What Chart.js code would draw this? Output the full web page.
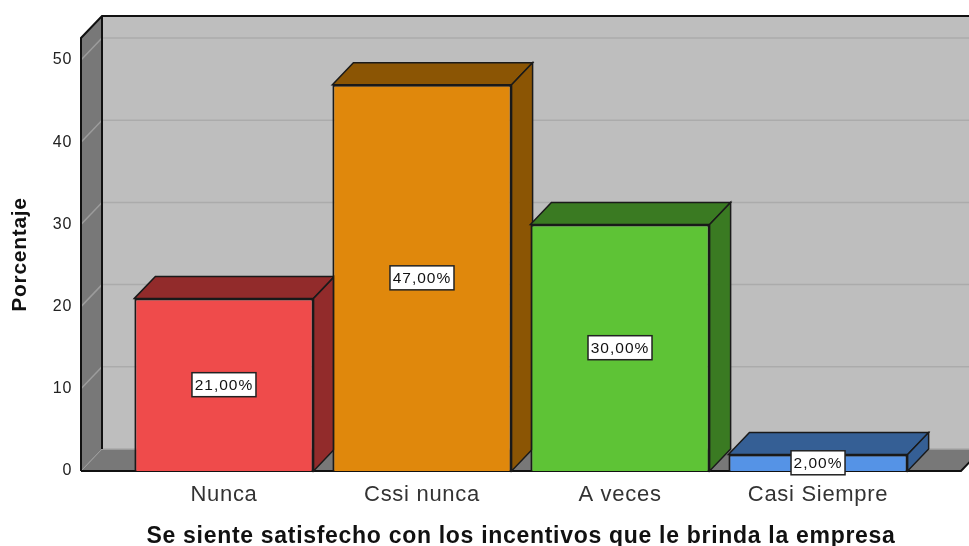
<!DOCTYPE html>
<html><head><meta charset="utf-8">
<style>html,body{margin:0;padding:0;background:#fff;overflow:hidden}#w{width:969px;height:546px;position:relative}</style>
<script src="https://cdn.jsdelivr.net/npm/chart.js@4"></script></head>
<body><div id="w"><canvas id="c"></canvas></div>
<script>
const categories=['Nunca','Cssi nunca','A veces','Casi Siempre'];
const values=[21,47,30,2];
const valueLabels=['21,00%','47,00%','30,00%','2,00%'];
const yTicks=[0,10,20,30,40,50];
const frontColors=['#EF4B4B','#E0880C','#5EC336','#5593E6'];
const topColors=['#922B2B','#8B5504','#3A7A22','#355F95'];
const DX=21,DY=-22;
function poly(ctx,pts,fill,stroke,lw){ctx.beginPath();pts.forEach((p,i)=>i?ctx.lineTo(p[0],p[1]):ctx.moveTo(p[0],p[1]));ctx.closePath();
 if(fill){ctx.fillStyle=fill;ctx.fill();} if(stroke){ctx.strokeStyle=stroke;ctx.lineWidth=lw;ctx.stroke();}}
const threeD={id:'threeD',
 beforeDraw(ch){ch.ctx.letterSpacing='0.7px';},
 beforeDatasetsDraw(ch){const {ctx,chartArea:a,scales:{y}}=ch;const L=a.left,R=a.right,T=a.top,B=a.bottom;ctx.save();
  poly(ctx,[[L+DX,T+DY],[R+DX,T+DY],[R+DX,B+DY],[L+DX,B+DY]],'#BEBEBE');
  yTicks.forEach(v=>{if(!v)return;const p=y.getPixelForValue(v);
   ctx.strokeStyle='#ABABAB';ctx.lineWidth=1.5;ctx.beginPath();ctx.moveTo(L+DX,p+DY);ctx.lineTo(R+DX,p+DY);ctx.stroke();});
  poly(ctx,[[L,B],[L+DX,B+DY],[R+DX,B+DY],[R,B]],'#787878');
  ctx.strokeStyle='#A8A8A8';ctx.lineWidth=1.5;ctx.beginPath();ctx.moveTo(L+DX,B+DY);ctx.lineTo(R+DX,B+DY);ctx.stroke();
  poly(ctx,[[L,T],[L+DX,T+DY],[L+DX,B+DY],[L,B]],'#787878');
  yTicks.forEach(v=>{if(!v)return;const p=y.getPixelForValue(v);
   ctx.strokeStyle='#9C9C9C';ctx.lineWidth=1.5;ctx.beginPath();ctx.moveTo(L,p);ctx.lineTo(L+DX,p+DY);ctx.stroke();});
  ctx.strokeStyle='#9C9C9C';ctx.lineWidth=1;ctx.beginPath();ctx.moveTo(L,B);ctx.lineTo(L+DX,B+DY);ctx.stroke();
  ctx.strokeStyle='#111';ctx.lineWidth=2;ctx.beginPath();
  ctx.moveTo(L,B);ctx.lineTo(L,T);ctx.lineTo(L+DX,T+DY);ctx.lineTo(R+DX,T+DY);
  ctx.moveTo(L+DX,T+DY);ctx.lineTo(L+DX,B+DY);
  ctx.moveTo(L,B);ctx.lineTo(R,B);ctx.lineTo(R+DX,B+DY);ctx.stroke();
  ch.getDatasetMeta(0).data.forEach((b,i)=>{const l=b.x-b.width/2,r=b.x+b.width/2,t=b.y,bo=b.base;
   poly(ctx,[[l,t],[l+DX,t+DY],[r+DX,t+DY],[r,t]],topColors[i],'#1a1a1a',1.5);
   poly(ctx,[[r,t],[r+DX,t+DY],[r+DX,bo+DY],[r,bo]],topColors[i],'#1a1a1a',1.5);
  });
  ctx.restore();},
 afterDatasetsDraw(ch){const {ctx}=ch;ctx.save();ctx.font='15.5px "Liberation Sans"';ctx.letterSpacing='1px';ctx.textAlign='center';ctx.textBaseline='middle';
  ch.getDatasetMeta(0).data.forEach((b,i)=>{const cy=(b.y+b.base)/2,cx=b.x;const w=i===3?54:64,h=24;
   ctx.fillStyle='#fff';ctx.fillRect(cx-w/2,cy-h/2,w,h);
   ctx.strokeStyle='#222';ctx.lineWidth=1.5;ctx.strokeRect(cx-w/2,cy-h/2,w,h);
   ctx.fillStyle='#111';ctx.fillText(valueLabels[i],cx,cy+1);});
  ctx.restore();}
};
new Chart(document.getElementById('c'),{type:'bar',
 data:{datasets:[{data:values.map((v,i)=>({x:i,y:v})),backgroundColor:frontColors,borderColor:'#1a1a1a',borderWidth:2,barPercentage:0.905,categoryPercentage:1}]},
 options:{responsive:true,maintainAspectRatio:false,animation:false,
  layout:{padding:{left:0,right:8,top:38,bottom:0}},
  plugins:{legend:{display:false},tooltip:{enabled:false}},
  scales:{
   x:{type:'linear',offset:false,min:-0.722,max:3.722,grid:{display:false,drawTicks:false,offset:false},border:{display:false},
    afterBuildTicks(s){s.ticks=categories.map((c,i)=>({value:i}));},
    afterFit(s){s.height=75;},
    ticks:{autoSkip:false,maxRotation:0,padding:11,color:'#333',font:{family:'Liberation Sans',size:22},callback:v=>categories[v]},
    title:{display:true,text:'Se siente satisfecho con los incentivos que le brinda la empresa',color:'#111',font:{family:'Liberation Sans',size:23,weight:'bold',lineHeight:0.8},padding:{top:14,bottom:0}}},
   y:{min:0,max:52.68,grid:{display:false,drawTicks:false},border:{display:false},
    afterBuildTicks(s){s.ticks=yTicks.map(v=>({value:v}));},
    afterFit(s){s.width=81;},
    ticks:{padding:9,color:'#222',font:{family:'Liberation Sans',size:16}},
    title:{display:true,text:'Porcentaje',color:'#111',font:{family:'Liberation Sans',size:21,weight:'bold'},padding:{top:8,bottom:0}}}
  }},
 plugins:[threeD]});
</script></body></html>
